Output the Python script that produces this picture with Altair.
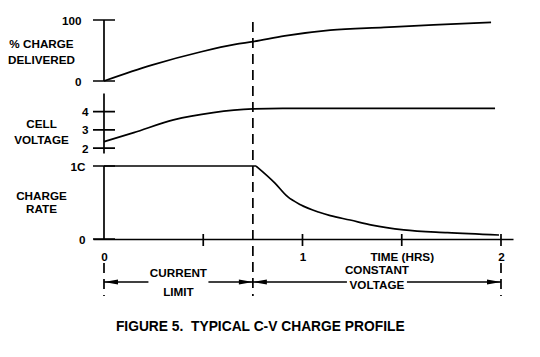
import altair as alt
import pandas as pd

# ---------------- data ----------------
charge_t = [0, 0.24, 0.49, 0.66, 0.75, 0.91, 1.14, 1.41, 1.66, 1.95]
charge_pct = [0, 26, 48, 60, 64.5, 74, 83.5, 88, 92, 96]

volt_t = [0, 0.15, 0.35, 0.55, 0.75, 0.9, 1.97]
volt_v = [2.35, 2.85, 3.55, 3.95, 4.15, 4.18, 4.18]

# constant-current segment (0) and constant-voltage decay (1), knee shared
rate_t = [0, 0.766, 0.766, 0.86, 0.925, 0.99, 1.08, 1.14, 1.24, 1.35, 1.51, 1.73, 1.99]
rate_c = [1, 1, 1, 0.77, 0.58, 0.47, 0.37, 0.32, 0.26, 0.19, 0.125, 0.087, 0.055]
rate_seg = [0, 0, 1, 1, 1, 1, 1, 1, 1, 1, 1, 1, 1]

time_domain = [-0.0554, 2.0605]
pct_domain = [0, 100]
volt_domain = [1.7, 5]
rate_domain = [0, 1]

pct_ticks = [0, 100]
pct_labels = ["0", "100"]
volt_ticks = [2, 3, 4]
volt_labels = ["2", "3", "4"]
rate_ticks = [0, 1]
rate_labels = ["0", "1C"]
time_ticks = [0.5, 1, 1.5, 2]
time_label_values = [0, 1, 1.5, 2]
time_labels = ["0", "1", "TIME (HRS)", "2"]

phase_start = [0, 0.75]
phase_end = [0.75, 2]
phase_top = ["CURRENT", "CONSTANT"]
phase_bottom = ["LIMIT", "VOLTAGE"]

pct_title = ["% CHARGE", "DELIVERED"]
volt_title = ["CELL", "VOLTAGE"]
rate_title = ["CHARGE", "RATE"]
title_text = "FIGURE 5.\u00a0 TYPICAL C-V CHARGE PROFILE"

# ---------------- style ----------------
FONT = "Liberation Sans"
FS = 11.7
LW = 1.7
W = 420
H_TOP, H_MID, H_BOT = 61, 60, 73

xs = alt.Scale(domain=time_domain, nice=False, zero=False)


def label_expr(values, labels):
    expr = "''"
    for v, l in reversed(list(zip(values, labels))):
        expr = f"datum.value == {v} ? '{l}' : {expr}"
    return expr


def y_axis(values, labels, title, title_y, line_h, pad):
    return alt.Axis(
        values=values, labelExpr=label_expr(values, labels), domain=False,
        ticks=False, grid=False, labelPadding=pad, labelOverlap=False,
        labelFont=FONT, labelFontSize=FS, labelFontWeight="bold", labelColor="black",
        title=title, titleAngle=0, titleAlign="center", titleBaseline="middle",
        titleX=-52, titleY=title_y, titleLineHeight=line_h, titleFont=FONT,
        titleFontSize=FS, titleFontWeight="bold", titleColor="black",
    )


x_axis_bottom = alt.Axis(
    values=time_label_values, labelExpr=label_expr(time_label_values, time_labels),
    domain=True, domainColor="black", domainWidth=LW, ticks=False, grid=False,
    labelPadding=12, labelFlush=False, labelOverlap=False, labelFont=FONT, labelFontSize=FS,
    labelFontWeight="bold", labelColor="black", title=None,
)


def make_panel(df, domain, height, ticks, labels, title, title_y, line_h, pad, xaxis, extra_fn=None):
    ys = alt.Scale(domain=domain, nice=False, zero=False)
    yax = y_axis(ticks, labels, title, title_y, line_h, pad)

    def X(field):
        return alt.X(field, scale=xs, axis=xaxis)

    def Y(field):
        return alt.Y(field, scale=ys, axis=yax)

    enc = dict(x=X("t:Q"), y=Y("y:Q"))
    if "seg" in df.columns:
        enc["detail"] = "seg:N"
    line = alt.Chart(df).mark_line(color="black", strokeWidth=LW, interpolate="monotone").encode(**enc)
    ax_df = pd.DataFrame({"t": [0], "lo": [domain[0]], "hi": [domain[1]]})
    ax_line = alt.Chart(ax_df).mark_rule(color="black", strokeWidth=LW).encode(
        x=X("t:Q"), y=Y("lo:Q"), y2="hi:Q")
    tk_df = pd.DataFrame({"t": [0] * len(ticks), "y": ticks})
    tk = alt.Chart(tk_df).mark_tick(orient="horizontal", size=22, thickness=LW, color="black",
                                    opacity=1).encode(x=X("t:Q"), y=Y("y:Q"))
    layers = [line, ax_line, tk]
    if extra_fn is not None:
        layers += extra_fn(X, Y)
    return alt.layer(*layers).properties(width=W, height=height)


def top_extra(X, Y):
    bound_df = pd.DataFrame({"t": [phase_end[0]]})
    dash = alt.Chart(bound_df).mark_rule(color="black", strokeWidth=LW, strokeDash=[10, 6]).encode(
        x=X("t:Q"), y=alt.value(2), y2=alt.value(276))
    return [dash]


def bottom_extra(X, Y):
    out = []
    xt_df = pd.DataFrame({"t": time_ticks, "y": [0] * len(time_ticks)})
    out.append(alt.Chart(xt_df).mark_tick(orient="vertical", size=12, thickness=LW, color="black",
                                          opacity=1, yOffset=1).encode(x=X("t:Q"), y=Y("y:Q")))
    ends_df = pd.DataFrame({"t": [phase_start[0], phase_end[-1]]})
    out.append(alt.Chart(ends_df).mark_rule(color="black", strokeWidth=LW, strokeDash=[10, 6]).encode(
        x=X("t:Q"), y=alt.value(97), y2=alt.value(130)))
    ph_df = pd.DataFrame({
        "start": phase_start, "end": phase_end,
        "mid": [(a + b) / 2 for a, b in zip(phase_start, phase_end)],
        "top": phase_top, "bottom": phase_bottom,
    })
    arrow_y = 116
    gap = 30
    out.append(alt.Chart(ph_df).mark_rule(color="black", strokeWidth=LW, x2Offset=-gap).encode(
        x=X("start:Q"), x2="mid:Q", y=alt.value(arrow_y)))
    out.append(alt.Chart(ph_df).mark_rule(color="black", strokeWidth=LW, xOffset=gap).encode(
        x=X("mid:Q"), x2="end:Q", y=alt.value(arrow_y)))
    left_head = "M-1,0L1,-0.36L1,0.36Z"
    right_head = "M1,0L-1,-0.36L-1,0.36Z"
    out.append(alt.Chart(ph_df).mark_point(shape=left_head, filled=True, size=196, color="black",
                                           opacity=1, strokeWidth=0, xOffset=7).encode(
        x=X("start:Q"), y=alt.value(arrow_y)))
    out.append(alt.Chart(ph_df).mark_point(shape=right_head, filled=True, size=196, color="black",
                                           opacity=1, strokeWidth=0, xOffset=-7).encode(
        x=X("end:Q"), y=alt.value(arrow_y)))
    txt_style = dict(font=FONT, fontSize=FS, fontWeight="bold", color="black", align="center",
                     baseline="middle")
    line_offsets = [(107, 126), (104, 119)]
    for i, (y1, y2) in enumerate(line_offsets):
        sub = ph_df.iloc[[i]]
        out.append(alt.Chart(sub).mark_text(**txt_style).encode(
            x=X("mid:Q"), y=alt.value(y1), text="top:N"))
        out.append(alt.Chart(sub).mark_text(**txt_style).encode(
            x=X("mid:Q"), y=alt.value(y2), text="bottom:N"))
    return out


top = make_panel(pd.DataFrame({"t": charge_t, "y": charge_pct}), pct_domain, H_TOP, pct_ticks,
                 pct_labels, pct_title, 23.5, 15.5, 12, None, top_extra)
mid = make_panel(pd.DataFrame({"t": volt_t, "y": volt_v}), volt_domain, H_MID, volt_ticks,
                 volt_labels, volt_title, 29.5, 16, 5, None)
bot = make_panel(pd.DataFrame({"t": rate_t, "y": rate_c, "seg": rate_seg}), rate_domain, H_BOT,
                 rate_ticks, rate_labels, rate_title, 29, 13.5, 8, x_axis_bottom, bottom_extra)

chart = alt.vconcat(top, mid, bot, spacing=12.5, bounds="flush").properties(
    title=alt.TitleParams(text=title_text, orient="bottom", anchor="middle", font=FONT,
                          fontSize=13.8, fontWeight="bold", color="black", offset=21),
    padding={"left": -1, "top": 7, "right": 5, "bottom": 5},
).configure_view(strokeWidth=0)

chart.save("out.html", embed_options={"renderer": "svg", "actions": False})
